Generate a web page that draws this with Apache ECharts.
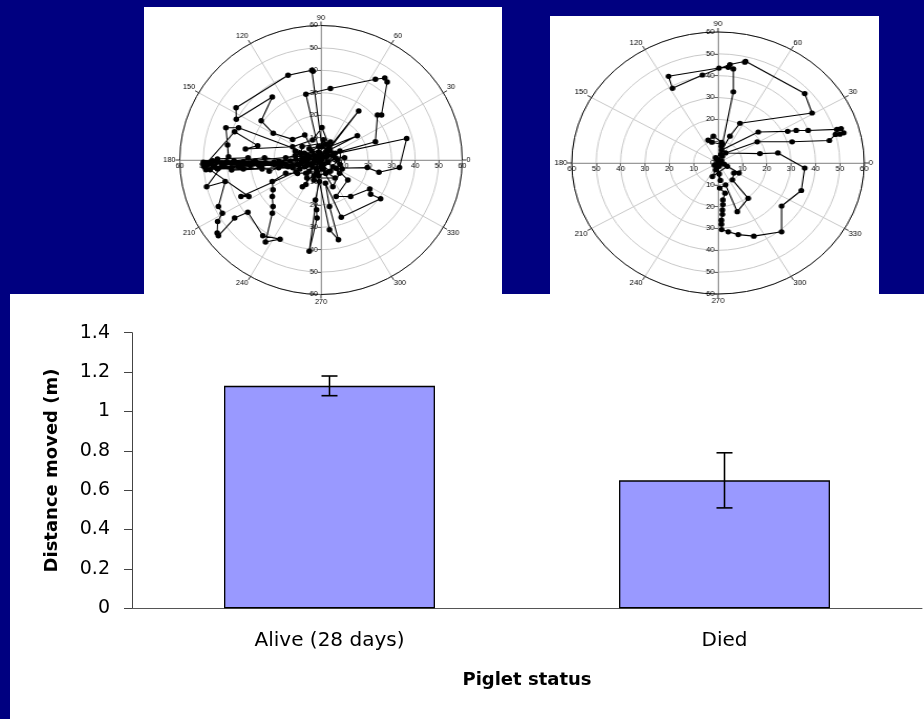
<!DOCTYPE html>
<html>
<head>
<meta charset="utf-8">
<script src="https://cdn.jsdelivr.net/npm/echarts@6/dist/echarts.min.js"></script>
<style>
  html, body { margin: 0; padding: 0; width: 924px; height: 719px; overflow: hidden; background: #000080; }
  .panel { position: absolute; background: #ffffff; }
  .chart { position: absolute; }
</style>
</head>
<body>
<div class="panel" style="left:10px;top:294px;width:914px;height:425px"></div>
<div class="panel" style="left:144px;top:7px;width:358px;height:300px"></div>
<div class="panel" style="left:550px;top:16px;width:329px;height:290px"></div>
<div id="bars" class="chart" style="left:10px;top:294px;width:914px;height:425px"></div>
<div id="trackAlive" class="chart" style="left:146px;top:0;width:350px;height:312px;transform-origin:175px 160px;transform:scaleX(1.05)"></div>
<div id="trackDied" class="chart" style="left:543px;top:0;width:350px;height:312px;transform-origin:175px 163px;transform:scaleX(1.116)"></div>
<script>
// Movement tracks as [east, north] displacement from the start point (same units as the radial scale).
const aliveTrack = [
  [0,0],[2.1,1.5],[-3.6,-3.0],[-9.3,-2.2],[-16.4,-1.5],[-23.6,-1.2],[-30.7,-1.8],[-36.4,-1.2],
  [-42.1,-1.5],[-49.3,-1.2],[-50.0,-2.2],[-48.9,-4.4],[-43.6,-3.7],[-35.0,-3.0],[-26.4,-2.5],
  [-17.9,-0.7],[-10.7,0.3],[-5.0,1.5],[0.4,5.9],[-3.9,40.0],[-3.4,39.6],[-14.0,37.8],[-36.1,23.3],
  [-36.0,18.2],[-20.7,28.1],[-25.4,17.5],[-20.3,11.9],[-12.1,9.2],[-6.9,11.1],[-2.1,1.5],
  [-35.0,14.4],[-40.4,14.4],[-39.7,6.7],[-39.3,1.5],[-42.1,-2.7],[-48.6,-11.9],[-40.7,-9.6],
  [-43.6,-20.7],[-41.9,-23.7],[-43.9,-27.4],[-44.1,-32.6],[-43.6,-33.8],[-36.7,-25.9],
  [-31.1,-23.3],[-24.7,-33.8],[-17.4,-35.3],[-23.6,-36.6],[-20.7,-23.7],[-20.4,-20.7],
  [-20.7,-16.3],[-20.4,-13.3],[-20.7,-9.6],[-15.0,-5.9],[-6.4,-5.9],[0.0,-1.5],[-5.0,-40.7],
  [-1.7,-25.9],[-1.9,-22.2],[-2.4,-17.8],[-0.7,-9.6],[3.6,-31.1],[7.4,-35.6],[3.6,-20.7],
  [1.9,-10.4],[8.6,-25.5],[25.3,-17.3],[21.1,-15.3],[20.7,-12.9],[12.6,-16.3],[6.4,-16.3],
  [11.4,-8.9],[6.4,-3.7],[19.7,-3.4],[24.6,-5.5],[33.3,-3.4],[36.4,9.6],[0.4,1.5],[23.1,8.1],
  [24.0,20.1],[25.7,20.1],[28.1,34.8],[27.1,36.6],[23.1,36.0],[4.0,31.9],[-6.4,29.3],[0,0],
  [16.0,21.9],[2.1,3.7],[15.4,10.8],[3.6,5.9],[0.4,14.5],[-3.6,8.9],[-12.1,5.9],[-32.1,4.9],
  [-26.9,6.4],[-36.7,12.6],[-48.4,-1.2],[-49.6,-3.0],[-47.1,-4.4],[-30.7,-16.3],[-34.0,-16.3],
  [-10.7,-5.2],[0,1.5],[7.9,-5.9],[5.0,-11.9],[0,-3.0],[-7.9,-11.9],[-6.4,-10.9],
  [-3,2],[-6,-1],[-8,1],[-12,-2.5],[-20,-2],[-28,-0.5],[-33,-4],[-40,-0.8],[-46,-2.5],
  [-38,-4.5],[-25,-4],[-14,-3],[-9,-4],[-4,-2],[3,-1],[5,2],[4,4],[-1,3.5],[-2,-4],[-7,3],
  [-11,2],[-15,1],[-18,-3.5],[-22,-5],[-27,-1.5],[-31,1],[-44,0.5],[-47,-1],[-37,-0.3],
  [-24,1],[-13,-0.5],[-6,0.5],[0,0],[1,-4],[-2,-6],[6,1],[8,-2],[-5,5],[2,7],[-1,-7],[4,-5],
  [-3,0],[0,2.5],
  [-48,-2],[-20,-1],[-45,-3.2],[-10,-2],[-50,-1],[-30,-2.5],[-49,-3.6],[-8,-1],[-46,-0.3],
  [-15,-2],[-41,-2],[-6,-2.5],[-38,-1.5],[-25,-2.2],[-44,-4],[-12,-3.5],[-33,-0.8],[-3,-1],
  [-7,-3],[-5,-5],[-3,-7],[2,-6],[5,-3],[7,0],[6,3],[3,5],[-1,6],[-4,4],[-6,2],[-8,-1],
  [-9,3],[-2,1],[1,-2],[3,2],[-4,-2],[8,4],[9,-4],[-10,-6],[-8,6],[4,8],[-3,-9],[1,9],
  [-6,-8],[6,-8],[-11,4],[10,1],[0,0]
];
const diedTrack = [
  [0,0],[0.4,-0.8],[0,1.5],[1.8,3.1],[1.4,7.7],[1.5,9.5],[-1.9,12.3],[-4.1,10.5],[-2.5,9.5],
  [1.8,8.5],[6.3,32.6],[6.3,43.1],[4.2,43.8],[0.4,43.5],[-20.3,39.7],[-18.7,34.2],[-6.4,40.3],
  [4.9,45.1],[11.3,46.6],[11.0,46.2],[35.6,31.8],[38.6,22.9],[9.0,18.2],[4.9,12.3],[1.5,6.0],
  [16.5,14.2],[28.6,14.5],[32.1,14.9],[37.0,14.9],[48.8,15.4],[50.5,15.8],[51.6,13.8],
  [50.0,13.2],[48.2,13.1],[45.7,10.3],[30.4,9.7],[16.1,9.7],[3.1,4.6],[17.2,4.3],[24.6,4.6],
  [35.6,-2.3],[34.2,-12.6],[26.1,-19.7],[26.1,-31.5],[14.7,-33.5],[8.3,-32.8],[4.2,-31.5],
  [1.5,-30.5],[1.4,-28.0],[1.4,-26.2],[1.8,-23.5],[1.8,-21.5],[2.0,-19.0],[2.0,-16.9],
  [2.9,-13.8],[0.7,-11.5],[3.1,-10.0],[7.9,-22.3],[12.4,-16.2],[5.9,-7.7],[6.5,-4.6],
  [8.6,-4.6],[3.8,-1.5],[-2.3,-6.2],[-1.0,-3.1],[0.5,-1.5],[1.5,1.0],[2.5,-0.5],[-0.8,2.0],
  [0.5,-5.0],[1.0,-8.0],[-1.5,-1.0],[-1.0,2.5],[1.2,4.0],[-0.5,-2.0],[0,0]
];

// Bar chart values
const statusLabels = ['Alive (28 days)', 'Died'];
const meanDistance = [1.13, 0.65];
const errDistance = [0.05, 0.14];

// Radial and angular scales of the track plots
const radialMax = 60, radialStep = 10;
const angleStep = 30;

function toPolar(points) {
  return points.map(([x, y]) => {
    let a = Math.atan2(y, x) * 180 / Math.PI;
    if (a < 0) a += 360;
    return [Math.hypot(x, y), a];
  });
}

const tinyFont = { fontFamily: 'Liberation Sans', fontSize: 7, color: '#000' };

function trackOption(track, cx, cy, R, dot) {
  const dirs = [0, 90, 180, 270];
  return {
    animation: false,
    polar: dirs.map(() => ({ center: [cx, cy], radius: R })),
    angleAxis: dirs.map((d, i) => ({
      polarIndex: i, type: 'value', min: 0, max: 360, interval: angleStep,
      startAngle: d, clockwise: false, show: i === 0,
      axisLine: { lineStyle: { color: '#111', width: 1 } },
      axisTick: { show: true, length: 4, lineStyle: { color: '#333' } },
      axisLabel: Object.assign({ margin: 4 }, tinyFont),
      splitLine: { show: i === 0, lineStyle: { color: '#c8c8c8', width: 1 } }
    })),
    radiusAxis: dirs.map((d, i) => {
      const flip = d === 0 || d === 270;
      const label = Object.assign({
        margin: flip ? -3 : 3,
        showMinLabel: d === 90
      }, tinyFont);
      if (d === 0) { label.verticalAlign = 'top'; label.align = 'center'; }
      if (d === 270) { label.align = 'right'; label.verticalAlign = 'middle'; }
      return {
        polarIndex: i, type: 'value', min: 0, max: radialMax, interval: radialStep,
        axisLine: { show: true, lineStyle: { color: '#9a9a9a', width: 1 } },
        axisTick: { show: true, length: flip ? -3 : 3, lineStyle: { color: '#666' } },
        axisLabel: label,
        splitLine: { show: i === 0, lineStyle: { color: '#c8c8c8', width: 1 } },
        splitArea: { show: false }
      };
    }),
    series: [{
      type: 'line', coordinateSystem: 'polar', polarIndex: 0,
      data: toPolar(track),
      symbol: 'circle', symbolSize: dot, showSymbol: true, showAllSymbol: true,
      itemStyle: { color: '#000' },
      lineStyle: { color: '#000', width: 1.1 },
      silent: true, clip: false
    }]
  };
}

echarts.init(document.getElementById('trackAlive')).setOption(trackOption(aliveTrack, 175, 160, 134.5, 5.5));
echarts.init(document.getElementById('trackDied')).setOption(trackOption(diedTrack, 175, 163, 131, 5.2));

const axisFont = { fontFamily: 'DejaVu Sans', color: '#000' };
const nameFont = { fontFamily: 'DejaVu Sans', fontWeight: 'bold', fontSize: 18, color: '#000' };

echarts.init(document.getElementById('bars')).setOption({
  animation: false,
  grid: { left: 122, right: 2, top: 38.7, bottom: 110.7 },
  xAxis: {
    type: 'category', data: statusLabels,
    axisLine: { lineStyle: { color: '#555', width: 1 } },
    axisTick: { length: 8, lineStyle: { color: '#555' } },
    axisLabel: Object.assign({ fontSize: 20, margin: 22 }, axisFont),
    name: 'Piglet status', nameLocation: 'middle', nameGap: 63,
    nameTextStyle: nameFont
  },
  yAxis: {
    type: 'value', min: 0, max: 1.4, interval: 0.2,
    axisLine: { show: true, lineStyle: { color: '#444', width: 1 } },
    axisTick: { show: true, length: 8, lineStyle: { color: '#444' } },
    splitLine: { show: false },
    axisLabel: Object.assign({ fontSize: 19, margin: 22 }, axisFont),
    name: 'Distance moved (m)', nameLocation: 'middle', nameGap: 71,
    nameTextStyle: nameFont
  },
  series: [
    {
      type: 'bar', data: meanDistance, barWidth: '53.4%',
      itemStyle: { color: '#9999ff', borderColor: '#000', borderWidth: 1.3 }
    },
    {
      type: 'custom', z: 5,
      data: meanDistance.map((m, i) => [i, m - errDistance[i], m + errDistance[i]]),
      renderItem(params, api) {
        const lo = api.coord([api.value(0), api.value(1)]);
        const hi = api.coord([api.value(0), api.value(2)]);
        const half = 8;
        const st = { stroke: '#000', lineWidth: 1.6 };
        return {
          type: 'group',
          children: [
            { type: 'line', shape: { x1: lo[0], y1: lo[1], x2: hi[0], y2: hi[1] }, style: st },
            { type: 'line', shape: { x1: lo[0] - half, y1: lo[1], x2: lo[0] + half, y2: lo[1] }, style: st },
            { type: 'line', shape: { x1: hi[0] - half, y1: hi[1], x2: hi[0] + half, y2: hi[1] }, style: st }
          ]
        };
      }
    }
  ]
});
</script>
</body>
</html>
